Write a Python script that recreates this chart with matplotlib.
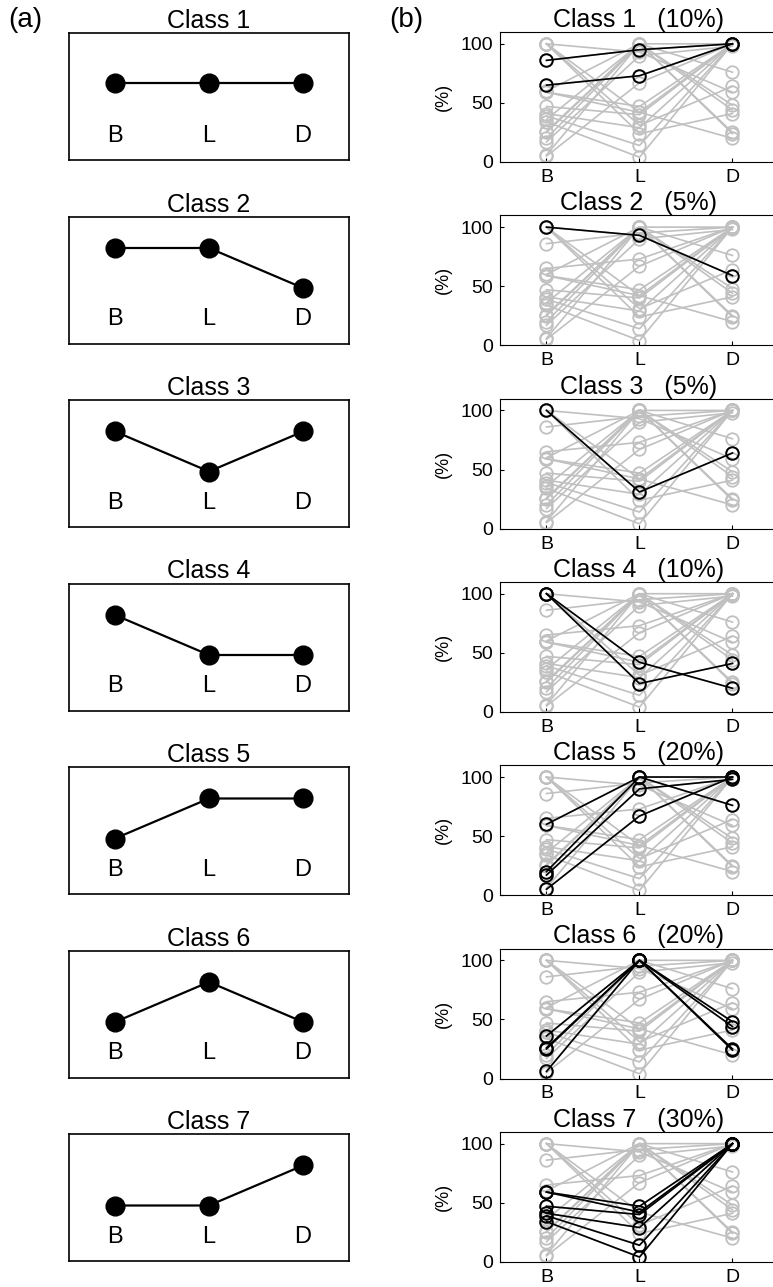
import matplotlib
matplotlib.use("Agg")
import matplotlib.pyplot as plt

plt.rcParams["font.family"] = ["Liberation Sans", "DejaVu Sans"]

# schematic patterns for panel (a): level of B, L, D
LEVELS = {"high": 0.752, "mid": 0.606, "low": 0.437}
PATTERNS = [
    ("mid", "mid", "mid"),
    ("high", "high", "low"),
    ("high", "low", "high"),
    ("high", "low", "low"),
    ("low", "high", "high"),
    ("low", "high", "low"),
    ("low", "low", "high"),
]

CONDS = ["B", "L", "D"]
SHARES = ["10%", "5%", "5%", "10%", "20%", "20%", "30%"]

# per-subject scores (%) at B, L, D and the class each subject belongs to
B_VALS = [86, 65, 100, 100, 100, 100, 60, 20, 17, 5, 36, 26, 25, 6, 59, 59, 47, 41, 39, 34]
L_VALS = [95, 73, 93, 31, 42, 24, 100, 100, 90, 67, 100, 100, 100, 100, 47, 42, 40, 29, 14, 4]
D_VALS = [100, 100, 59, 64, 20, 41, 76, 100, 98, 100, 48, 44, 25, 24, 100, 100, 100, 100, 100, 100]
CLASS_OF = [1, 1, 2, 3, 4, 4, 5, 5, 5, 5, 6, 6, 6, 6, 7, 7, 7, 7, 7, 7]

W, H = 773, 1287
fig = plt.figure(figsize=(W / 100, H / 100), dpi=100)

GRAY = "#c0c0c0"
x = [1, 2, 3]

for k in range(7):
    # (a) schematic box
    top = 33 + k * 183.5
    axa = fig.add_axes([69 / W, 1 - (top + 127) / H, 280 / W, 127 / H])
    ys = [LEVELS[p] for p in PATTERNS[k]]
    axa.plot(x, ys, "-", color="black", lw=1.6, marker="o", ms=13.5, mfc="black", mec="black")
    for xi, c in zip(x, CONDS):
        axa.text(xi, 0.19, c, ha="center", va="center", fontsize=17)
    axa.set_xlim(0.511, 3.489)
    axa.set_ylim(0, 1)
    axa.set_xticks([])
    axa.set_yticks([])
    for s in axa.spines.values():
        s.set_linewidth(1.2)
    axa.set_title(f"Class {k + 1}", fontsize=18, pad=3)

    # (b) subject trajectories
    topb = 32 + k * 183.3
    axb = fig.add_axes([500 / W, 1 - (topb + 130) / H, 279 / W, 130 / H])
    for b, l, d in zip(B_VALS, L_VALS, D_VALS):
        axb.plot(x, [b, l, d], "-o", color=GRAY, lw=1.2, ms=9, mfc="none", mec=GRAY, mew=1.3)
    for b, l, d, c in zip(B_VALS, L_VALS, D_VALS, CLASS_OF):
        if c == k + 1:
            axb.plot(x, [b, l, d], "-o", color="black", lw=1.2, ms=9, mfc="none", mec="black", mew=1.4)
    axb.set_xlim(0.5, 3.5)
    axb.set_ylim(0, 110)
    axb.set_xticks(x)
    axb.set_xticklabels(CONDS)
    axb.set_yticks([0, 50, 100])
    axb.tick_params(direction="in", labelsize=14, length=3)
    axb.tick_params(axis="x", pad=5)
    axb.tick_params(axis="y", pad=5)
    axb.spines["right"].set_visible(False)
    axb.set_ylabel("(%)", fontsize=13, labelpad=6)
    axb.set_title(f"Class {k + 1}   ({SHARES[k]})", fontsize=18, pad=1, x=0.495)

fig.text(8 / W, 1 - 20 / H, "(a)", fontsize=20, va="center", ha="left")
fig.text(389 / W, 1 - 20 / H, "(b)", fontsize=20, va="center", ha="left")

fig.savefig("out.png", dpi=100)
